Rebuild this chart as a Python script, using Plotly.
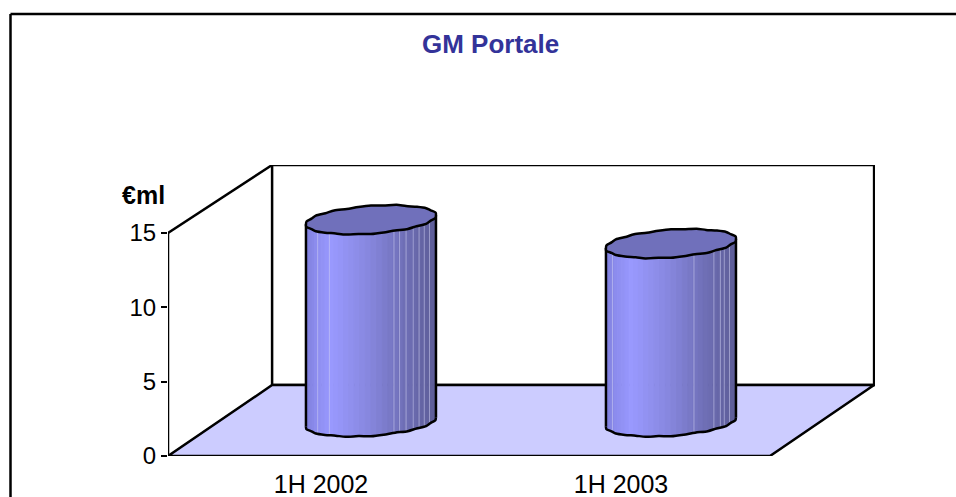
import math
import plotly.graph_objects as go

# ---- data
categories = ["1H 2002", "1H 2003"]
values = [13.6, 12.0]
y_ticks = [0, 5, 10, 15]
title_text = "GM Portale"
unit_text = "€ml"

# ---- style / geometry of the pseudo 3D frame (axis units)
PAGE = 0                  # the page's body margin is removed below
W, H = 956 - PAGE, 497 - PAGE
L, R, T, B = 168 - PAGE, 81, 165 - PAGE, 41
X0, X1 = -0.51, 1.8467
YTOP = 19.57
DX, DY = 0.347, 4.77      # depth shift
FRONT_R = 1.4967
AX_TOP = 15
RX, RY, TILT = 0.2167, 0.93, 0.30
DEPTH = 0.48
BLACK = "#000000"
FLOOR = "#ccccff"
TOP_FILL = "#7070bb"
RAMP = [(0.0, (126, 126, 218)), (0.08, (140, 140, 238)), (0.2, (153, 153, 255)),
        (0.5, (134, 134, 220)), (0.75, (112, 112, 184)), (1.0, (92, 92, 150))]
N_FACETS = 36
SEAMS = [[0.09, 0.18, 0.677, 0.72, 0.77, 0.825, 0.87, 0.91, 0.95],
         [0.05, 0.677, 0.83, 0.88, 0.91, 0.95]]
RIM_WOBBLE = [1.0, 1.015, 0.995, 1.02, 1.0, 0.97, 1.03, 0.98, 1.03, 1.0, 0.97, 1.02,
              0.99, 1.02, 0.99, 1.01,
              1.0, 1.015, 0.99, 1.02, 1.0, 0.975, 1.03, 0.98, 1.03, 1.0, 0.97, 1.02,
              0.99, 1.02, 0.99, 1.01]
NW = len(RIM_WOBBLE)


def colour(t):
    for (a, ca), (b, cb) in zip(RAMP, RAMP[1:]):
        if t <= b:
            f = (t - a) / (b - a)
            c = [round(p + (q - p) * f) for p, q in zip(ca, cb)]
            return "rgb(%d,%d,%d)" % tuple(c)
    return "rgb(%d,%d,%d)" % RAMP[-1][1]


def poly(fig, xs, ys, fill=None, line=BLACK, width=2.5, spline=False):
    fig.add_trace(go.Scatter(
        x=xs, y=ys, mode="lines",
        fill="toself" if fill else "none", fillcolor=fill,
        line=dict(color=line, width=width, shape="spline" if spline else "linear",
                  smoothing=0.7 if spline else None),
        hoverinfo="skip", showlegend=False, cliponaxis=False))


def px_x(p):
    return (p - PAGE - L) / (W - L - R)


def px_y(p):
    return (H - B - (p - PAGE)) / (H - T - B)


fig = go.Figure()

# back wall and left wall
poly(fig, [X0 + DX, FRONT_R + DX, FRONT_R + DX, X0 + DX, X0 + DX],
     [DY, DY, YTOP, YTOP, DY], fill="#ffffff")
poly(fig, [X0, X0 + DX], [AX_TOP, YTOP])
poly(fig, [X0, X0], [0, AX_TOP])
# floor
poly(fig, [X0, FRONT_R, FRONT_R + DX, X0 + DX, X0], [0, 0, DY, DY, 0], fill=FLOOR)

# cylinders
for k, v in enumerate(values):
    cx = k + DEPTH * DX
    base = DEPTH * DY
    top = base + v
    for i in range(N_FACETS):
        a0 = math.pi + math.pi * i / N_FACETS
        a1 = math.pi + math.pi * (i + 1) / N_FACETS
        xa, xb = cx + RX * math.cos(a0), cx + RX * math.cos(a1)
        da = RY * math.sin(a0) + TILT * math.cos(a0)
        db = RY * math.sin(a1) + TILT * math.cos(a1)
        tx = ((xa + xb) / 2 - (cx - RX)) / (2 * RX)
        c = colour(tx)
        poly(fig, [xa, xb, xb, xa, xa],
             [base + da, base + db, top + db, top + da, base + da], fill=c, line=c, width=1)
    for s in SEAMS[k]:
        xs = cx - RX + 2 * RX * s
        a = math.acos(max(-1, min(1, (xs - cx) / RX)))
        d = -RY * math.sin(a) + TILT * math.cos(a)
        poly(fig, [xs, xs], [base + d, top + d], line="rgba(205,205,240,0.55)", width=1)
    # outline of the body
    bx, by = [], []
    for i in range(NW // 2 + 1):
        j = NW // 2 + i
        a = 2 * math.pi * j / NW
        w = RIM_WOBBLE[j % NW] if 0 < i < NW // 2 else 1
        bx.append(cx + RX * w * math.cos(a))
        by.append(base + RY * w * math.sin(a) + TILT * math.cos(a))
    poly(fig, bx, by, spline=True)
    poly(fig, [cx - RX, cx - RX], [base - TILT, top - TILT])
    poly(fig, [cx + RX, cx + RX], [base + TILT, top + TILT])
    # top rim
    tx_, ty_ = [], []
    for j in range(NW + 1):
        a = 2 * math.pi * j / NW
        w = RIM_WOBBLE[j % NW]
        tx_.append(cx + RX * w * math.cos(a))
        ty_.append(top + RY * w * math.sin(a) + TILT * math.cos(a))
    poly(fig, tx_, ty_, fill=TOP_FILL, spline=True)

fig.update_layout(
    width=W, height=H, autosize=False,
    margin=dict(l=L, r=R, t=T, b=B, pad=0),
    paper_bgcolor="#ffffff", plot_bgcolor="#ffffff",
    font=dict(family="Liberation Sans, Arial, sans-serif", color=BLACK),
    xaxis=dict(range=[X0, X1], tickmode="array", tickvals=[0, 1], ticktext=categories,
               automargin=False,
               showgrid=False, zeroline=False, showline=False, ticks="",
               ticklabelstandoff=11, tickfont=dict(size=25, color=BLACK)),
    yaxis=dict(range=[0, YTOP], tickmode="array", tickvals=y_ticks,
               ticktext=[str(t) for t in y_ticks], automargin=False,
               showgrid=False, zeroline=False, showline=False,
               ticks="outside", ticklen=6, tickwidth=2, tickcolor=BLACK,
               tickfont=dict(size=24, color=BLACK)),
    annotations=[
        dict(text="<b>%s</b>" % title_text, xref="paper", yref="paper",
             x=px_x(490), y=px_y(44),
             showarrow=False, xanchor="center", yanchor="middle",
             font=dict(size=26, color="#333399")),
        dict(text="<b>%s</b>" % unit_text, xref="paper", yref="paper",
             x=px_x(143), y=px_y(195),
             showarrow=False, xanchor="center", yanchor="middle",
             font=dict(size=25, color=BLACK)),
    ],
    shapes=[
        dict(type="line", xref="paper", yref="paper", layer="above",
             x0=px_x(10.5), x1=px_x(956), y0=px_y(14), y1=px_y(14),
             line=dict(color=BLACK, width=2.5)),
        dict(type="line", xref="paper", yref="paper", layer="above",
             x0=px_x(10.5), x1=px_x(10.5), y0=px_y(14), y1=px_y(497),
             line=dict(color=BLACK, width=2.5)),
    ],
)
fig.write_html("out.html", config={"displayModeBar": False},
               post_script="document.body.style.margin='0';")
